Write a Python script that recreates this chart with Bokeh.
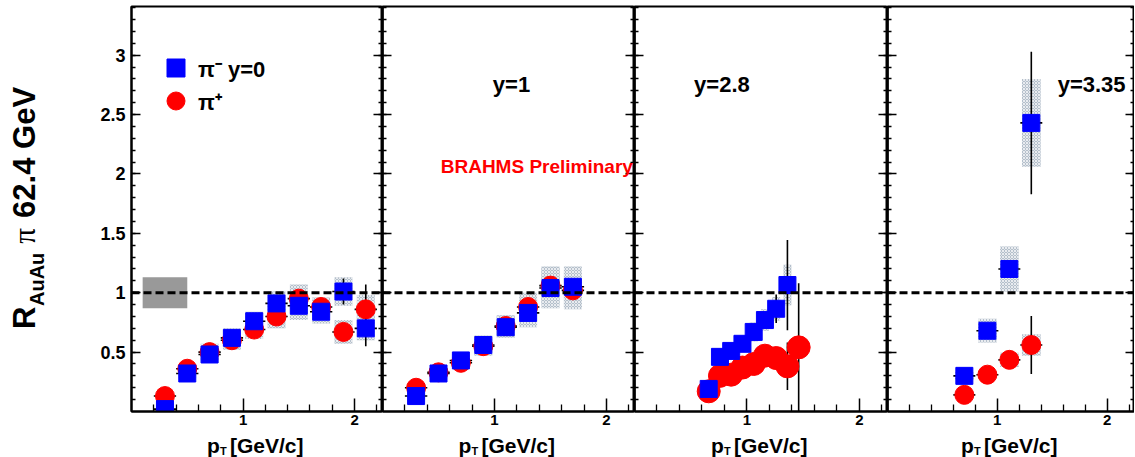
import math
import numpy as np
from bokeh.plotting import figure
from bokeh.models import (Range1d, LinearAxis, FixedTicker, Span, Label, Legend,
                          LegendItem, NumeralTickFormatter)
from bokeh.layouts import row, column
from bokeh.embed import file_html
from bokeh.resources import INLINE

# ---------------- data ----------------
# y = 0
pt_y0 = [0.3, 0.5, 0.7, 0.9, 1.1, 1.3, 1.5, 1.7, 1.9, 2.1]
pim_y0 = [0.02, 0.32, 0.48, 0.62, 0.76, 0.91, 0.89, 0.84, 1.01, 0.70]
pim_y0_stat = [0.01, 0.02, 0.02, 0.02, 0.03, 0.04, 0.04, 0.05, 0.11, 0.15]
pim_y0_sys = [0.02, 0.04, 0.07, 0.08, 0.08, 0.10, 0.12, 0.10, 0.12, 0.10]
pip_y0 = [0.13, 0.36, 0.50, 0.60, 0.69, 0.80, 0.95, 0.88, 0.67, 0.86]
pip_y0_stat = [0.01, 0.02, 0.02, 0.02, 0.03, 0.04, 0.04, 0.05, 0.06, 0.21]
pip_y0_sys = [0.02, 0.04, 0.07, 0.08, 0.08, 0.10, 0.12, 0.08, 0.10, 0.12]

# y = 1
pt_y1 = [0.3, 0.5, 0.7, 0.9, 1.1, 1.3, 1.5, 1.7]
pim_y1 = [0.13, 0.32, 0.43, 0.56, 0.71, 0.83, 1.04, 1.05]
pim_y1_stat = [0.02, 0.02, 0.02, 0.02, 0.03, 0.03, 0.04, 0.05]
pim_y1_sys = [0.03, 0.04, 0.05, 0.08, 0.09, 0.12, 0.17, 0.17]
pip_y1 = [0.20, 0.33, 0.41, 0.55, 0.72, 0.88, 1.06, 1.02]
pip_y1_stat = [0.02, 0.02, 0.02, 0.02, 0.03, 0.03, 0.04, 0.05]
pip_y1_sys = [0.03, 0.04, 0.05, 0.08, 0.09, 0.12, 0.16, 0.16]

# y = 2.8
pt_y28_m = [0.66, 0.76, 0.86, 0.96, 1.06, 1.16, 1.26, 1.36]
pim_y28 = [0.19, 0.46, 0.51, 0.57, 0.67, 0.77, 0.865, 1.065]
pim_y28_stat = [0.02, 0.02, 0.02, 0.03, 0.04, 0.06, 0.12, 0.38]
pim_y28_sys = [0.02, 0.03, 0.04, 0.05, 0.08, 0.09, 0.10, 0.17]
pt_y28_p = [0.66, 0.76, 0.86, 0.96, 1.06, 1.16, 1.26, 1.36, 1.46]
pip_y28 = [0.17, 0.30, 0.31, 0.37, 0.40, 0.47, 0.45, 0.38, 0.54]
pip_y28_stat = [0.02, 0.02, 0.02, 0.03, 0.03, 0.05, 0.08, 0.20, 0.54]
pip_y28_sys = [0.01, 0.02, 0.02, 0.02, 0.03, 0.03, 0.03, 0.04, 0.05]

# y = 3.35
pt_y335 = [0.70, 0.91, 1.11, 1.31]
pim_y335 = [0.30, 0.68, 1.20, 2.43]
pim_y335_stat = [0.02, 0.04, 0.05, 0.60]
pim_y335_sys = [0.03, 0.10, 0.19, 0.37]
pip_y335 = [0.14, 0.31, 0.435, 0.56]
pip_y335_stat = [0.02, 0.02, 0.03, 0.245]
pip_y335_sys = [0.02, 0.03, 0.06, 0.09]

rapidity_labels = ["y=0", "y=1", "y=2.8", "y=3.35"]
norm_value = 1.0
norm_err = 0.13

x_major = [1, 2]
x_minor = [0.2, 0.4, 0.6, 0.8, 1.2, 1.4, 1.6, 1.8, 2.2]
y_major = [0.5, 1.0, 1.5, 2.0, 2.5, 3.0]
y_minor = [round(0.1 * i, 1) for i in range(1, 35)]

# ---------------- style / layout ----------------
FONT = "Liberation Sans"
FWS = [251, 252, 253, 247]
FH = 405
TOP = 6
BOT = 21
LEFT1 = 42
YT_W = 131 - LEFT1
XT_H = 457 - (TOP + FH + BOT)
BLUE = "#0000ff"
RED = "#ff0000"
SYS_FILL = "#b4bfcb"
YR = (0, 3.41)
XR = (0, 2.25)


def tick_axis(ticks, length):
    """Axis drawing only inward ticks (no labels)."""
    ax = LinearAxis(ticker=FixedTicker(ticks=[], minor_ticks=ticks), axis_label=None)
    ax.axis_line_color = "black"
    ax.axis_line_width = 2
    ax.major_tick_in = 0
    ax.major_tick_out = 0
    ax.minor_tick_in = length
    ax.minor_tick_out = 0
    ax.minor_tick_line_width = 1.3
    ax.major_label_standoff = 0
    return ax


def label_axis(ax, ticks, minors, size, maj_in, min_in, standoff):
    ax.ticker = FixedTicker(ticks=ticks, minor_ticks=minors)
    ax.formatter = NumeralTickFormatter(format="0.[0]")
    ax.axis_label = None
    ax.axis_line_color = "black"
    ax.axis_line_width = 2
    ax.major_tick_in = maj_in
    ax.major_tick_out = 0
    ax.minor_tick_in = min_in
    ax.minor_tick_out = 0
    ax.major_tick_line_width = 1.5
    ax.minor_tick_line_width = 1.3
    ax.major_label_text_font = FONT
    ax.major_label_text_font_style = "bold"
    ax.major_label_text_color = "black"
    ax.major_label_text_font_size = size
    ax.major_label_standoff = standoff


def make_panel(first, fw, pt_m, ym, ym_stat, ym_sys, pt_p, yp, yp_stat, yp_sys,
               xerr, sysw, csize):
    p = figure(frame_width=fw, frame_height=FH, x_range=Range1d(*XR),
               y_range=Range1d(*YR), output_backend="svg",
               toolbar_location=None, y_axis_location="left" if first else None,
               min_border_left=LEFT1 if first else 0,
               min_border_right=0, min_border_top=TOP, min_border_bottom=BOT)
    p.grid.visible = False
    p.outline_line_color = "black"
    p.outline_line_width = 2
    p.background_fill_color = "white"
    p.border_fill_color = "white"

    label_axis(p.xaxis[0], x_major, x_minor, "15px", 13, 7, 3)
    if first:
        label_axis(p.yaxis[0], y_major, y_minor, "18px", 9, 4, 6)
    else:
        p.add_layout(tick_axis(y_minor, 4), "left")
        p.add_layout(tick_axis(y_major, 9), "left")
    p.add_layout(tick_axis(y_minor, 4), "right")
    p.add_layout(tick_axis(y_major, 9), "right")

    pt_m = np.array(pt_m); ym = np.array(ym)
    pt_p = np.array(pt_p); yp = np.array(yp)
    ym_stat = np.array(ym_stat); yp_stat = np.array(yp_stat)
    ym_sys = np.array(ym_sys); yp_sys = np.array(yp_sys)

    # systematic boxes
    for xs, ys, ss in ((pt_p, yp, yp_sys), (pt_m, ym, ym_sys)):
        p.rect(x=xs, y=ys, width=sysw, height=2 * ss, fill_color=SYS_FILL,
               line_color=None, hatch_pattern="diagonal_cross",
               hatch_color="white", hatch_scale=3, hatch_weight=1,
               hatch_alpha=0.7)

    # unity line
    p.add_layout(Span(location=norm_value, dimension="width", line_color="black",
                      line_width=3, line_dash="8 4"))

    # error bars
    for xs, ys, st in ((pt_p, yp, yp_stat), (pt_m, ym, ym_stat)):
        p.segment(x0=xs, y0=ys - st, x1=xs, y1=ys + st, line_color="black",
                  line_width=1.6)
        p.segment(x0=xs - xerr, y0=ys, x1=xs + xerr, y1=ys, line_color="black",
                  line_width=1.6)

    rp = p.scatter(pt_p, yp, marker="circle", size=csize, fill_color=RED,
                   line_color=RED)
    rm = p.scatter(pt_m, ym, marker="square", size=17, fill_color=BLUE,
                   line_color=BLUE)
    return p, rm, rp


p1, rm1, rp1 = make_panel(True, FWS[0], pt_y0, pim_y0, pim_y0_stat, pim_y0_sys,
                          pt_y0, pip_y0, pip_y0_stat, pip_y0_sys, 0.1, 0.16, 19)
p2, _, _ = make_panel(False, FWS[1], pt_y1, pim_y1, pim_y1_stat, pim_y1_sys,
                      pt_y1, pip_y1, pip_y1_stat, pip_y1_sys, 0.1, 0.16, 19)
p3, _, _ = make_panel(False, FWS[2], pt_y28_m, pim_y28, pim_y28_stat, pim_y28_sys,
                      pt_y28_p, pip_y28, pip_y28_stat, pip_y28_sys, 0.05, 0.07, 23)
p4, _, _ = make_panel(False, FWS[3], pt_y335, pim_y335, pim_y335_stat, pim_y335_sys,
                      pt_y335, pip_y335, pip_y335_stat, pip_y335_sys, 0.1, 0.17, 19)

# normalisation box in first panel
p1.rect(x=[0.3], y=[norm_value], width=0.4, height=2 * norm_err,
        fill_color="#999999", line_color=None, level="underlay")


# legend: one Legend per entry (anchor = bottom-left, from the frame's bottom-left)
def legend_entry(label, renderer, top_from_frame_top):
    return Legend(items=[LegendItem(label=label, renderers=[renderer])],
                  location=(22, FH - top_from_frame_top - 45),
                  border_line_color=None, background_fill_alpha=0,
                  glyph_width=45, glyph_height=45, label_standoff=0,
                  padding=0, margin=0, label_text_font=FONT,
                  label_text_font_style="bold", label_text_font_size="22px",
                  label_text_color="black")


p1.add_layout(legend_entry("π⁻ " + rapidity_labels[0], rm1, 39))
p1.add_layout(legend_entry("π⁺", rp1, 72))

# rapidity labels
for p, lab, xl in ((p2, rapidity_labels[1], 0.985), (p3, rapidity_labels[2], 0.53),
                   (p4, rapidity_labels[3], 1.55)):
    p.add_layout(Label(x=xl, y=2.75, text=lab, text_font=FONT,
                       text_font_style="bold", text_font_size="22px",
                       text_color="black", text_align="left",
                       text_baseline="middle"))

p2.add_layout(Label(x=0.52, y=2.06, text="BRAHMS Preliminary", text_font=FONT,
                    text_font_style="bold", text_font_size="19px",
                    text_color=RED, text_align="left", text_baseline="middle"))


def blank_fig(w, h, xr, yr, top=0, bottom=0):
    f = figure(frame_width=w, frame_height=h, x_range=Range1d(*xr),
               y_range=Range1d(*yr), output_backend="svg", toolbar_location=None,
               x_axis_location=None, y_axis_location=None, min_border_left=0,
               min_border_right=0, min_border_top=top, min_border_bottom=bottom)
    f.grid.visible = False
    f.outline_line_color = None
    f.background_fill_color = "white"
    f.border_fill_color = "white"
    return f


# y-axis title strip (x in pixels, y in data units of the panels)
yt = blank_fig(YT_W, FH, (0, YT_W), YR, top=TOP, bottom=BOT)
ang = math.pi / 2
for txt, xx, yy, fnt, style, size in (
        ("R", 24, 0.694, FONT, "bold", "31px"),
        ("AuAu", 36, 0.888, FONT, "bold", "20px"),
        ("π", 24, 1.413, "Liberation Serif", "normal", "31px"),
        ("62.4 GeV", 24, 1.63, FONT, "bold", "31px")):
    yt.add_layout(Label(x=xx, y=yy, text=txt, angle=ang, text_font=fnt,
                        text_font_style=style, text_font_size=size,
                        text_color="black", text_align="left",
                        text_baseline="middle"))

# x-axis title strip (pixel coordinates)
TOTAL_W = 131 + sum(FWS)
xt = blank_fig(TOTAL_W, XT_H, (0, TOTAL_W), (0, XT_H))
left = 131
mid_y = XT_H / 2
for fw in FWS:
    c = left + fw / 2
    xt.add_layout(Label(x=c - 50, y=mid_y, text="p", text_font=FONT,
                        text_font_style="bold", text_font_size="21px",
                        text_color="black", text_align="left",
                        text_baseline="middle"))
    xt.add_layout(Label(x=c - 37, y=6.8, text="T", text_font=FONT,
                        text_font_style="bold", text_font_size="11px",
                        text_color="black", text_align="left",
                        text_baseline="middle"))
    xt.add_layout(Label(x=c - 27, y=mid_y, text="[GeV/c]", text_font=FONT,
                        text_font_style="bold", text_font_size="21px",
                        text_color="black", text_align="left",
                        text_baseline="middle"))
    left += fw

layout = column(row(yt, p1, p2, p3, p4), xt)
open("out.html", "w").write(file_html(layout, INLINE))
